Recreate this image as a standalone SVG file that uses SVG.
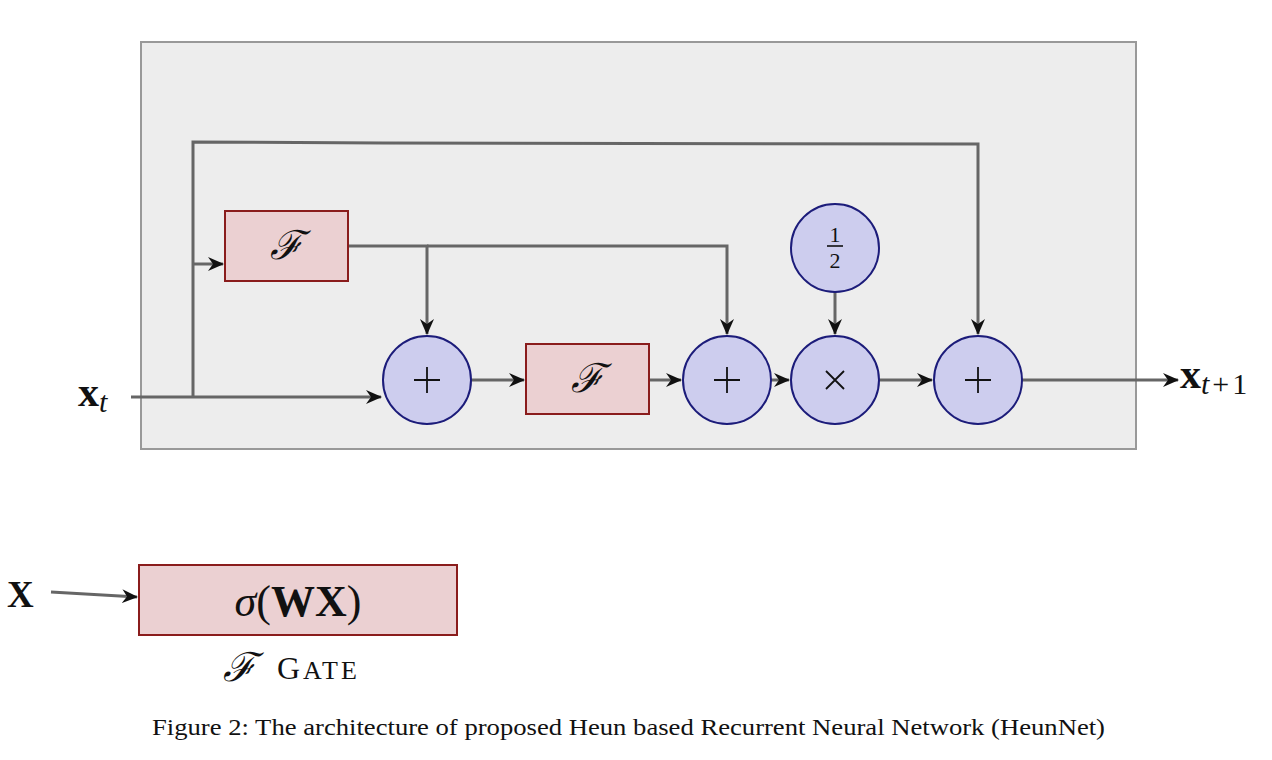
<svg xmlns="http://www.w3.org/2000/svg" width="1272" height="760" viewBox="0 0 1272 760">
<style>
.bg{fill:#ededed;stroke:#999;stroke-width:2}
.op{fill:#cdcdee;stroke:#1c1c7a;stroke-width:2}
.fb{fill:#ebd0d2;stroke:#8a1c1c;stroke-width:2}
.ln{fill:none;stroke:#666;stroke-width:3}
.sym{font-family:"DejaVu Serif","Liberation Serif",serif;fill:#111}
.mth{font-family:"Liberation Serif",serif;fill:#111}
</style>
<defs>
<marker id="ah" markerUnits="userSpaceOnUse" markerWidth="18" markerHeight="14" refX="15" refY="7" orient="auto">
<path d="M0,0 L16,7 L0,14 L5,7 Z" fill="#111"/>
</marker>
</defs>
<rect class="bg" x="141" y="42" width="995" height="407"/>
<g id="connectors">
<path class="ln" d="M131,397 H381" marker-end="url(#ah)"/>
<path class="ln" d="M193,397 V142 L383,143 L978,144 V334" marker-end="url(#ah)"/>
<path class="ln" d="M193,264 H223" marker-end="url(#ah)"/>
<path class="ln" d="M348,246 H427 V334" marker-end="url(#ah)"/>
<path class="ln" d="M427,246 H727 V334" marker-end="url(#ah)"/>
<path class="ln" d="M471,380 H524" marker-end="url(#ah)"/>
<path class="ln" d="M649,380 H681" marker-end="url(#ah)"/>
<path class="ln" d="M771,380 H789" marker-end="url(#ah)"/>
<path class="ln" d="M835,292 V334" marker-end="url(#ah)"/>
<path class="ln" d="M879,380 H932" marker-end="url(#ah)"/>
<path class="ln" d="M1022,380 H1178" marker-end="url(#ah)"/>
<path class="ln" d="M51,592 L137,597" marker-end="url(#ah)"/>
</g>
<g id="xt"><text class="mth" x="78" y="406" font-size="42" font-weight="bold">x<tspan font-size="30" font-weight="normal" font-style="italic" dy="6">t</tspan></text></g>
<g id="xt1"><text class="mth" x="1180" y="388" font-size="42" font-weight="bold">x<tspan font-size="30" font-weight="normal" font-style="italic" dy="6">t</tspan><tspan font-size="30" font-weight="normal" dx="3">+</tspan><tspan font-size="30" font-weight="normal" dx="3">1</tspan></text></g>
<g id="f1"><rect class="fb" x="225" y="211" width="123" height="70"/><text class="sym" x="286" y="259" font-size="40" font-style="italic" text-anchor="middle">ℱ</text></g>
<g id="f2"><rect class="fb" x="526" y="344" width="123" height="70"/><text class="sym" x="587" y="392" font-size="40" font-style="italic" text-anchor="middle">ℱ</text></g>
<g id="plus1"><circle class="op" cx="427" cy="380" r="44"/><path d="M414,380 H440 M427,367 V393" stroke="#111" stroke-width="1.8"/></g>
<g id="plus2"><circle class="op" cx="727" cy="380" r="44"/><path d="M714,380 H740 M727,367 V393" stroke="#111" stroke-width="1.8"/></g>
<g id="times"><circle class="op" cx="835" cy="380" r="44"/><path d="M826,371 L844,389 M844,371 L826,389" stroke="#111" stroke-width="1.8"/></g>
<g id="plus3"><circle class="op" cx="978" cy="380" r="44"/><path d="M965,380 H991 M978,367 V393" stroke="#111" stroke-width="1.8"/></g>
<g id="half"><circle class="op" cx="835" cy="248" r="44"/>
<text class="mth" x="835" y="242" font-size="22" text-anchor="middle">1</text>
<line x1="827" y1="246" x2="843" y2="246" stroke="#111" stroke-width="1.6"/>
<text class="mth" x="835" y="268" font-size="22" text-anchor="middle">2</text></g>
<g id="xin"><text class="mth" x="7" y="607" font-size="37" font-weight="bold">X</text></g>
<g id="gate"><rect class="fb" x="139" y="565" width="318" height="70"/>
<text class="mth" x="298" y="616" font-size="44" text-anchor="middle"><tspan font-style="italic">σ</tspan>(<tspan font-weight="bold">WX</tspan>)</text></g>
<g id="gatelabel"><text class="sym" x="223" y="681" font-size="40" font-style="italic">ℱ</text><text class="mth" x="277" y="679" font-size="32" letter-spacing="3">G<tspan font-size="26">ATE</tspan></text></g>
<text class="mth" x="152" y="735" font-size="24" textLength="953" lengthAdjust="spacingAndGlyphs">Figure 2: The architecture of proposed Heun based Recurrent Neural Network (HeunNet)</text>
</svg>
